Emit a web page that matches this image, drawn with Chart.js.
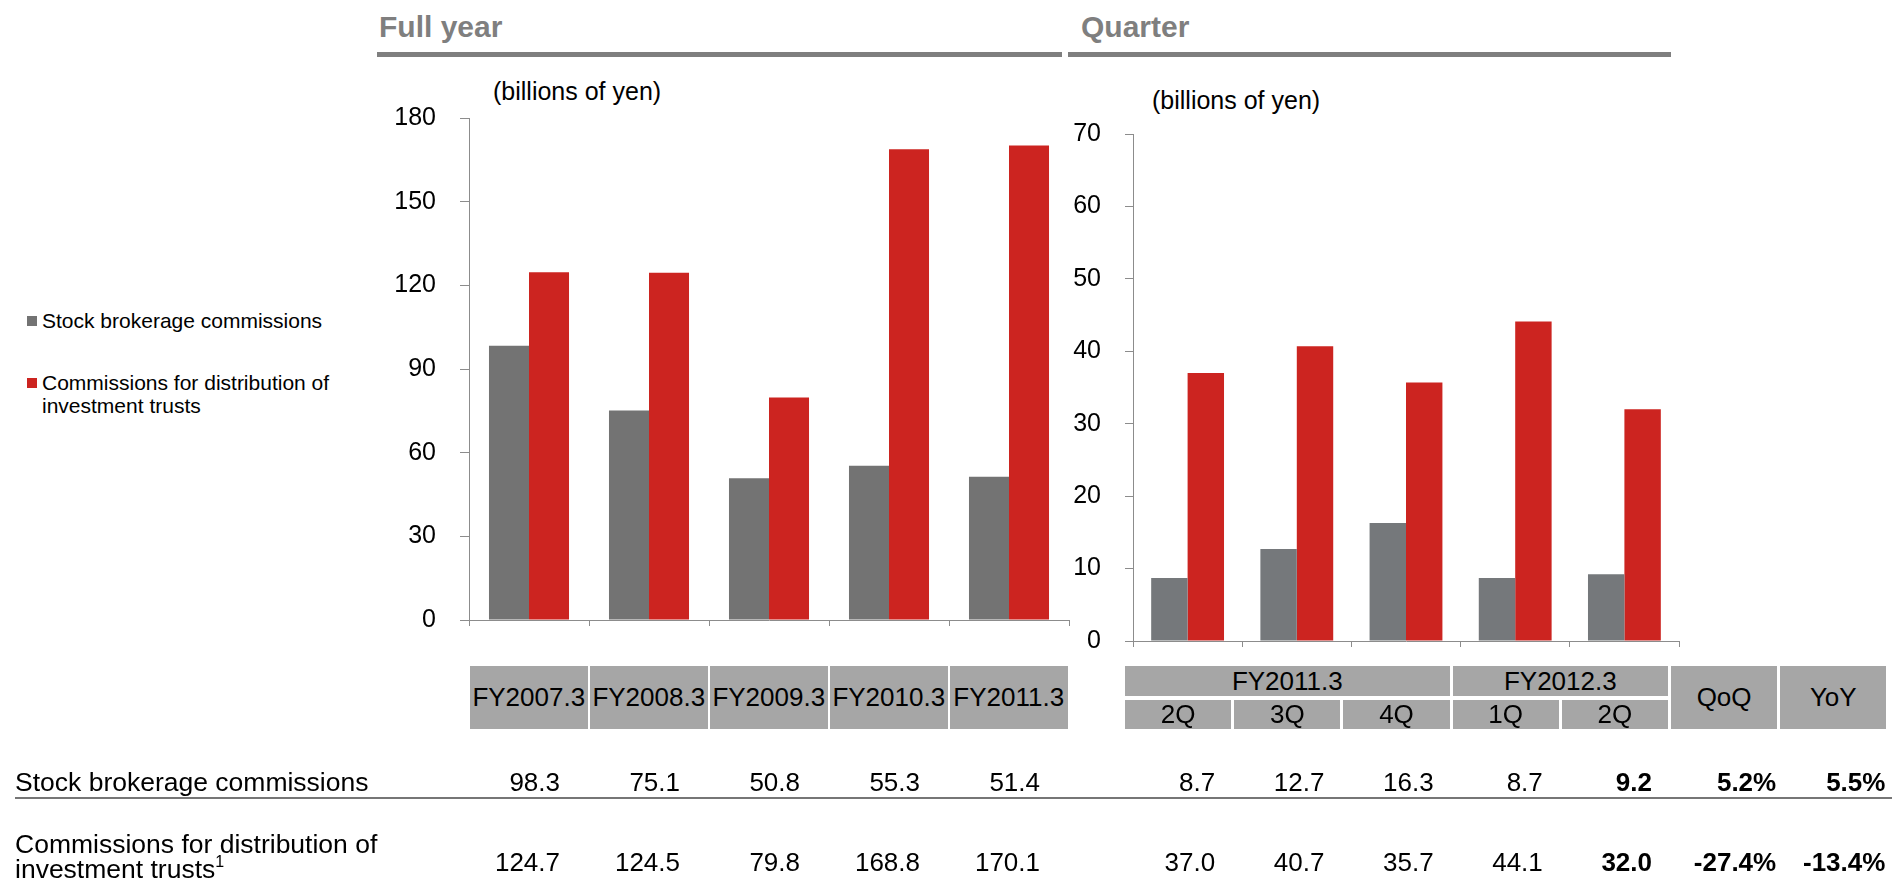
<!DOCTYPE html>
<html>
<head>
<meta charset="utf-8">
<script src="https://cdn.jsdelivr.net/npm/chart.js@4.4.1/dist/chart.umd.min.js"></script>
<style>
body { margin: 0; background: #fff; font-family: "Liberation Sans", Arial, sans-serif; }
#page { position: relative; width: 1894px; height: 887px; overflow: hidden; }
canvas { position: absolute; top: 0; }
.t { position: absolute; white-space: nowrap; color: #000; }
.title { font-size: 30px; font-weight: bold; color: #7f7f7f; line-height: 34px; }
.rule { position: absolute; background: #7f7f7f; }
.unit { font-size: 25px; line-height: 30px; }
.leg { font-size: 21px; line-height: 23px; }
.sq { position: absolute; width: 10px; height: 10px; }
.box { position: absolute; background: #a6a6a6; font-size: 26px; display: flex; align-items: center; justify-content: center; white-space: nowrap; }
.num { font-size: 26px; line-height: 30px; text-align: right; width: 200px; }
.lbl { font-size: 26.5px; line-height: 25px; }
.sup { font-size: 16px; position: relative; top: -11px; line-height: 0; }
</style>
</head>
<body>
<div id="page">
  <div class="t title" style="left:379px;top:10px;">Full year</div>
  <div class="rule" style="left:377px;top:52px;width:685px;height:5px;"></div>
  <div class="t title" style="left:1081px;top:10px;">Quarter</div>
  <div class="rule" style="left:1068px;top:52px;width:603px;height:5px;"></div>

  <div class="t unit" style="left:493px;top:76px;">(billions of yen)</div>
  <div class="t unit" style="left:1152px;top:85px;">(billions of yen)</div>

  <div class="sq" style="left:27px;top:316px;background:#737373;"></div>
  <div class="t leg" style="left:42px;top:309px;">Stock brokerage commissions</div>
  <div class="sq" style="left:27px;top:378px;background:#cc2420;"></div>
  <div class="t leg" style="left:42px;top:371px;">Commissions for distribution of<br>investment trusts</div>

  <canvas id="GraficoAnual" width="1075" height="887" style="left:0px;"></canvas>
  <canvas id="GraficoTrimestral" width="834" height="887" style="left:1060px;"></canvas>

  <div class="t lbl" style="left:15px;top:770px;">Stock brokerage commissions</div>
  <div class="rule" style="left:15px;top:797px;width:1877px;height:2px;background:#767676;"></div>
  <div class="t lbl" style="left:15px;top:832px;">Commissions for distribution of<br>investment trusts<span class="sup">1</span></div>
</div>

<script>
// datos
var fullYearLabels = ['FY2007.3', 'FY2008.3', 'FY2009.3', 'FY2010.3', 'FY2011.3'];
var fullYearStock = [98.3, 75.1, 50.8, 55.3, 51.4];
var fullYearTrusts = [124.7, 124.5, 79.8, 168.8, 170.1];

var quarterLabels = ['2Q', '3Q', '4Q', '1Q', '2Q'];
var quarterGroups = ['FY2011.3', 'FY2011.3', 'FY2011.3', 'FY2012.3', 'FY2012.3'];
var quarterStock = [8.7, 12.7, 16.3, 8.7, 9.2];
var quarterTrusts = [37.0, 40.7, 35.7, 44.1, 32.0];

var changeLabels = ['QoQ', 'YoY'];
var changeStock = ['5.2%', '5.5%'];
var changeTrusts = ['-27.4%', '-13.4%'];

var fullYearMax = 180, fullYearStep = 30;
var quarterMax = 70, quarterStep = 10;

var seriesNames = ['Stock brokerage commissions', 'Commissions for distribution of investment trusts'];

var FONT = '"Liberation Sans", Arial, sans-serif';
var AXIS = '#8c8c8c';
var page = document.getElementById('page');

function opciones(maxVal, step, axisW, bottomH, pad, tickLen) {
  return {
    responsive: false,
    animation: false,
    layout: { padding: pad },
    plugins: { legend: { display: false }, tooltip: { enabled: false } },
    scales: {
      x: {
        grid: { drawOnChartArea: false, tickLength: 6, color: AXIS },
        border: { color: AXIS },
        ticks: { display: false },
        afterFit: function(s) { s.height = bottomH; }
      },
      y: {
        min: 0,
        max: maxVal,
        ticks: { stepSize: step, color: '#000', padding: 24, font: { family: FONT, size: 25 } },
        grid: { drawOnChartArea: false, tickLength: tickLen, color: AXIS },
        border: { color: AXIS },
        afterFit: function(s) { s.width = axisW; }
      }
    }
  };
}

function datasets(stock, trusts, gray) {
  return [
    { label: seriesNames[0], data: stock, backgroundColor: gray, categoryPercentage: 0.667, barPercentage: 1.0 },
    { label: seriesNames[1], data: trusts, backgroundColor: '#cc2420', categoryPercentage: 0.667, barPercentage: 1.0 }
  ];
}

var GraficoAnual = new Chart(document.getElementById('GraficoAnual').getContext('2d'), {
  type: 'bar',
  data: { labels: fullYearLabels, datasets: datasets(fullYearStock, fullYearTrusts, '#737373') },
  options: opciones(fullYearMax, fullYearStep, 469, 267, { top: 118, right: 6, left: 0, bottom: 0 }, 9)
});

var GraficoTrimestral = new Chart(document.getElementById('GraficoTrimestral').getContext('2d'), {
  type: 'bar',
  data: { labels: quarterLabels, datasets: datasets(quarterStock, quarterTrusts, '#75787b') },
  options: opciones(quarterMax, quarterStep, 73, 246, { top: 134, right: 215, left: 0, bottom: 0 }, 8)
});

function caja(x1, x2, y1, y2, text) {
  var el = document.createElement('div');
  el.className = 'box';
  el.style.left = x1 + 'px';
  el.style.top = y1 + 'px';
  el.style.width = (x2 - x1) + 'px';
  el.style.height = (y2 - y1) + 'px';
  el.textContent = text;
  page.appendChild(el);
}
function numero(xRight, yCenter, text, bold) {
  var el = document.createElement('div');
  el.className = 't num';
  el.style.left = (xRight - 200) + 'px';
  el.style.top = (yCenter - 15) + 'px';
  if (bold) el.style.fontWeight = 'bold';
  el.textContent = text;
  page.appendChild(el);
}

var ROW1 = 782, ROW2 = 862;

// cajas y valores del grafico anual
(function() {
  var xs = GraficoAnual.scales.x;
  var w = (xs.right - xs.left) / fullYearLabels.length;
  fullYearLabels.forEach(function(lab, i) {
    var e = xs.left + i * w;
    caja(e + 1, e + w - 1.5, 666, 729, lab);
    numero(e + w - 29, ROW1, fullYearStock[i].toFixed(1), false);
    numero(e + w - 29, ROW2, fullYearTrusts[i].toFixed(1), false);
  });
})();

// cajas y valores del grafico trimestral
(function() {
  var off = 1060;
  var xs = GraficoTrimestral.scales.x;
  var w = (xs.right - xs.left) / quarterLabels.length;
  var left = off + xs.left - 8;
  var n = quarterLabels.length;
  quarterLabels.forEach(function(lab, i) {
    var a = left + i * w, b = a + w - 3;
    caja(a, b, 700, 729, lab);
    var bold = i === n - 1;
    numero(b - 16, ROW1, quarterStock[i].toFixed(1), bold);
    numero(b - 16, ROW2, quarterTrusts[i].toFixed(1), bold);
  });
  // grupos de años
  var start = 0;
  for (var i = 1; i <= n; i++) {
    if (i === n || quarterGroups[i] !== quarterGroups[start]) {
      caja(left + start * w, left + i * w - 3, 666, 696, quarterGroups[start]);
      start = i;
    }
  }
  changeLabels.forEach(function(lab, j) {
    var a = left + (n + j) * w, b = a + w - 3;
    caja(a, b, 666, 729, lab);
    numero(b - 1, ROW1, changeStock[j], true);
    numero(b - 1, ROW2, changeTrusts[j], true);
  });
})();
</script>
</body>
</html>
